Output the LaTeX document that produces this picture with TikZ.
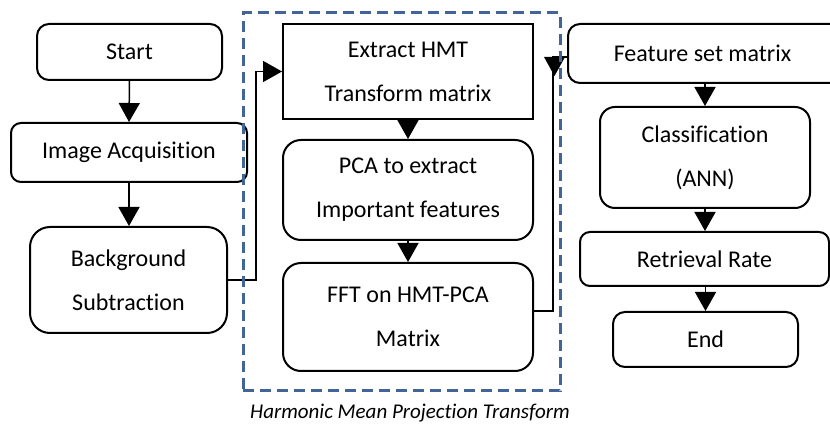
\documentclass[tikz,border=0pt]{standalone}
\usepackage{fontspec}
\setmainfont{Carlito}[Ligatures={NoCommon}]
\usetikzlibrary{arrows.meta,calc}
\definecolor{dashblue}{RGB}{65,101,150}
\begin{document}
\begin{tikzpicture}[x=1pt,y=-1pt,
  box/.style={draw, line width=2pt, align=center, inner sep=0pt,
    font=\fontsize{24}{44}\selectfont},
  rbox/.style={box, rounded corners=#1},
  rbox/.default=12pt,
  conn/.style={line width=1.5pt},
  arr/.style={conn, -{Triangle[width=21pt,length=19pt]}},
  frame/.style={draw=dashblue, line width=3pt, dash pattern=on 11pt off 6pt}
]
\useasboundingbox (0,0) rectangle (830,427);
% left column
\node[rbox=12pt, minimum width=185pt, minimum height=56pt] (start) at (129.5,52) {Start};
\node[rbox=10pt, minimum width=236pt, minimum height=59pt] (acq) at (129,152.5) {Image Acquisition};
\node[rbox=20pt, minimum width=197pt, minimum height=106pt] (bg) at (128.5,280) {Background\\Subtraction};
% middle column
\node[box, minimum width=250pt, minimum height=95pt] (ext) at (408,71.5) {Extract HMT\\Transform matrix};
\node[rbox=18pt, minimum width=250pt, minimum height=100pt] (pca) at (408,190) {PCA to extract\\Important features};
\node[rbox=18pt, minimum width=250pt, minimum height=108pt] (fft) at (408,317) {FFT on HMT-PCA\\Matrix};
% right column
\node[rbox=12pt, minimum width=277pt, minimum height=59pt] (feat) at (706.5,53.5) {};
\node[font=\fontsize{24}{44}\selectfont] (featlabel) at (702.5,53) {Feature set matrix};
\node[rbox=15pt, minimum width=210pt, minimum height=101pt] (cls) at (705,157.5) {Classification\\(ANN)};
\node[rbox=10pt, minimum width=249pt, minimum height=54pt] (ret) at (704.5,259) {Retrieval Rate};
\node[rbox=12pt, minimum width=185pt, minimum height=55pt] (end) at (705.5,339.5) {End};
% connectors
\draw[arr] (start.south) -- (acq.north);
\draw[arr] (acq.south) -- (acq.south |- bg.north);
\coordinate (t1) at (256,176);
\draw[arr] (bg.east) -| (t1) |- (ext.west);
\draw[arr] (ext.south) -- (pca.north);
\draw[arr] (pca.south) -- (fft.north);
\coordinate (f1) at ($(fft.east)+(0,-6)$);
\coordinate (t2) at (553,57);
\draw[conn] (f1) -| (t2) -- (t2 -| feat.west);
\fill (544,57) -- (565,57) -- (554.5,76) -- cycle;
\draw[arr] (feat.south -| cls.north) -- (cls.north);
\draw[arr] (cls.south) -- (cls.south |- ret.north);
\draw[arr] (ret.south -| end.north) -- (end.north);
% dashed frame
\node[frame, minimum width=317pt, minimum height=378pt, inner sep=0pt] (hmpt) at (401.5,202) {};
\node[font=\fontsize{21}{25}\selectfont\itshape] (cap) at (410,413) {Harmonic Mean Projection Transform};
\end{tikzpicture}
\end{document}
